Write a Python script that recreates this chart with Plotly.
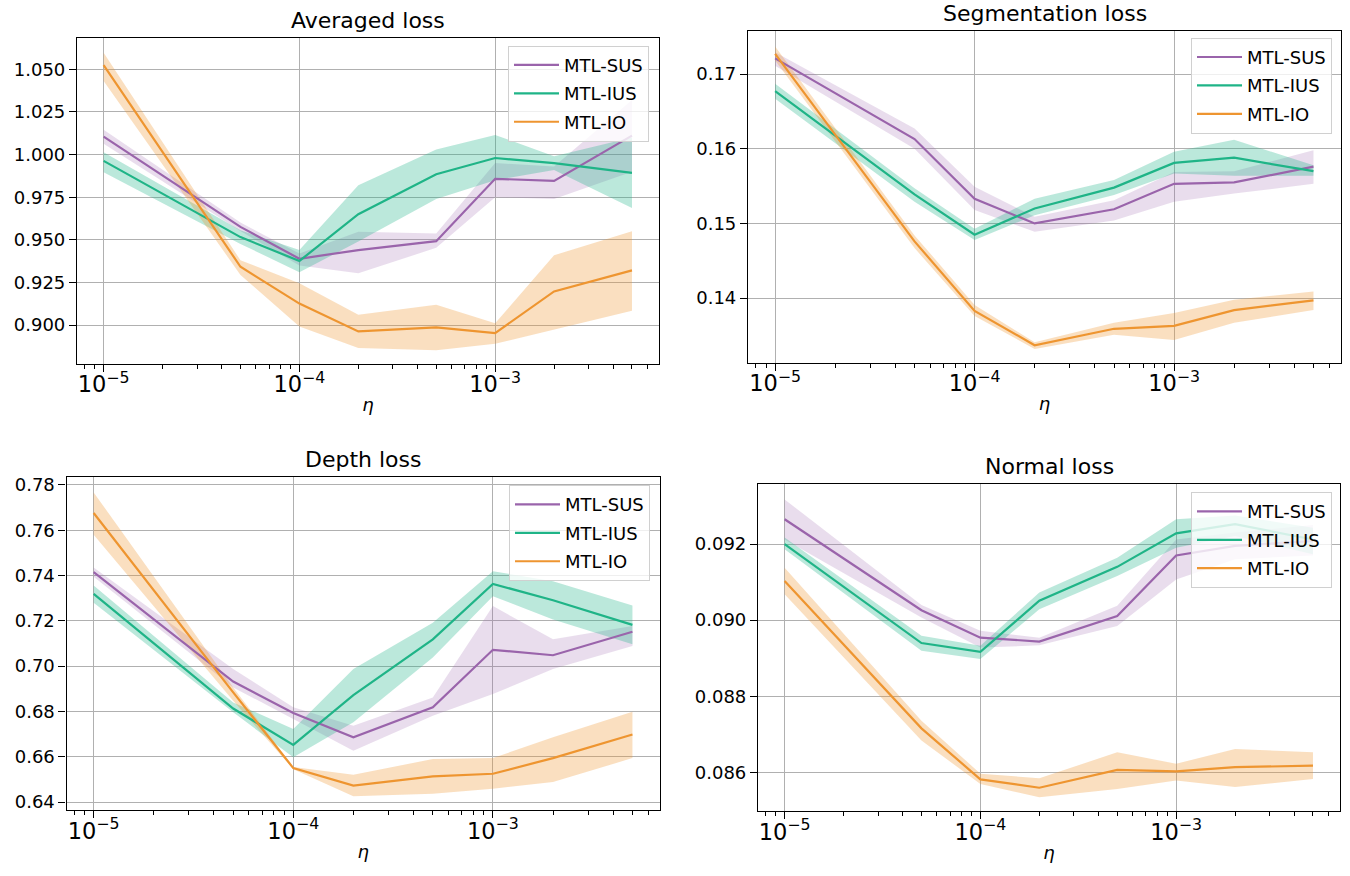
import plotly.graph_objects as go

eta = [1e-5, 5e-5, 1e-4, 2e-4, 5e-4, 1e-3, 2e-3, 5e-3]
methods = ["MTL-SUS", "MTL-IUS", "MTL-IO"]

# Averaged loss
avg_mean = {
    "MTL-SUS": [1.0105, 0.9576, 0.9389, 0.9440, 0.9492, 0.9858, 0.9846, 1.0111],
    "MTL-IUS": [0.9963, 0.9516, 0.9376, 0.9650, 0.9885, 0.9980, 0.9950, 0.9893],
    "MTL-IO":  [1.0525, 0.9342, 0.9126, 0.8963, 0.8986, 0.8953, 0.9197, 0.9321],
}
avg_upper = {
    "MTL-SUS": [1.0146, 0.9601, 0.9420, 0.9547, 0.9537, 0.9950, 0.9930, 1.0320],
    "MTL-IUS": [1.0014, 0.9556, 0.9440, 0.9820, 1.0030, 1.0115, 0.9990, 1.0100],
    "MTL-IO":  [1.0597, 0.9380, 0.9245, 0.9060, 0.9119, 0.9010, 0.9410, 0.9550],
}
avg_lower = {
    "MTL-SUS": [1.0063, 0.9551, 0.9350, 0.9304, 0.9453, 0.9750, 0.9740, 0.9900],
    "MTL-IUS": [0.9897, 0.9476, 0.9310, 0.9490, 0.9740, 0.9850, 0.9910, 0.9687],
    "MTL-IO":  [1.0432, 0.9294, 0.8992, 0.8866, 0.8852, 0.8890, 0.8973, 0.9084],
}

# Segmentation loss
seg_mean = {
    "MTL-SUS": [0.1721, 0.1613, 0.1533, 0.1500, 0.1519, 0.1553, 0.1555, 0.1576],
    "MTL-IUS": [0.1677, 0.1539, 0.1485, 0.1520, 0.1548, 0.1581, 0.1588, 0.1570],
    "MTL-IO":  [0.1727, 0.1476, 0.1383, 0.1337, 0.1359, 0.1363, 0.1384, 0.1397],
}
seg_upper = {
    "MTL-SUS": [0.1729, 0.1627, 0.1549, 0.1509, 0.1531, 0.1569, 0.1570, 0.1598],
    "MTL-IUS": [0.1687, 0.1547, 0.1493, 0.1533, 0.1558, 0.1596, 0.1612, 0.1578],
    "MTL-IO":  [0.1737, 0.1484, 0.1391, 0.1341, 0.1367, 0.1380, 0.1398, 0.1409],
}
seg_lower = {
    "MTL-SUS": [0.1711, 0.1600, 0.1518, 0.1489, 0.1504, 0.1529, 0.1540, 0.1553],
    "MTL-IUS": [0.1667, 0.1529, 0.1478, 0.1511, 0.1538, 0.1567, 0.1564, 0.1564],
    "MTL-IO":  [0.1718, 0.1467, 0.1376, 0.1332, 0.1351, 0.1344, 0.1367, 0.1384],
}

# Depth loss
dep_mean = {
    "MTL-SUS": [0.7415, 0.6932, 0.6793, 0.6686, 0.6818, 0.7072, 0.7048, 0.7152],
    "MTL-IUS": [0.7319, 0.6813, 0.6652, 0.6872, 0.7118, 0.7363, 0.7291, 0.7182],
    "MTL-IO":  [0.7676, 0.6884, 0.6550, 0.6473, 0.6513, 0.6525, 0.6594, 0.6698],
}
dep_upper = {
    "MTL-SUS": [0.7435, 0.6987, 0.6818, 0.6737, 0.6862, 0.7265, 0.7119, 0.7177],
    "MTL-IUS": [0.7356, 0.6840, 0.6723, 0.6987, 0.7192, 0.7419, 0.7375, 0.7268],
    "MTL-IO":  [0.7767, 0.6906, 0.6555, 0.6520, 0.6590, 0.6594, 0.6686, 0.6799],
}
dep_lower = {
    "MTL-SUS": [0.7395, 0.6906, 0.6767, 0.6627, 0.6781, 0.6877, 0.6987, 0.7089],
    "MTL-IUS": [0.7280, 0.6796, 0.6598, 0.6752, 0.7038, 0.7309, 0.7206, 0.7097],
    "MTL-IO":  [0.7580, 0.6847, 0.6545, 0.6426, 0.6437, 0.6459, 0.6488, 0.6594],
}

# Normal loss
nor_mean = {
    "MTL-SUS": [0.09265, 0.09026, 0.08954, 0.08944, 0.09011, 0.09170, 0.09195, 0.09208],
    "MTL-IUS": [0.09200, 0.08940, 0.08917, 0.09051, 0.09140, 0.09228, 0.09252, 0.09212],
    "MTL-IO":  [0.09103, 0.08716, 0.08582, 0.08560, 0.08607, 0.08603, 0.08614, 0.08618],
}
nor_upper = {
    "MTL-SUS": [0.09317, 0.09040, 0.08972, 0.08954, 0.09038, 0.09212, 0.09230, 0.09250],
    "MTL-IUS": [0.09217, 0.08959, 0.08933, 0.09073, 0.09164, 0.09265, 0.09275, 0.09243],
    "MTL-IO":  [0.09138, 0.08736, 0.08597, 0.08585, 0.08653, 0.08623, 0.08662, 0.08653],
}
nor_lower = {
    "MTL-SUS": [0.09212, 0.09007, 0.08928, 0.08934, 0.08985, 0.09107, 0.09160, 0.09170],
    "MTL-IUS": [0.09186, 0.08920, 0.08898, 0.09029, 0.09116, 0.09190, 0.09221, 0.09173],
    "MTL-IO":  [0.09068, 0.08684, 0.08570, 0.08535, 0.08557, 0.08579, 0.08562, 0.08583],
}

titles = ["Averaged loss", "Segmentation loss", "Depth loss", "Normal loss"]

colors = {"MTL-SUS": "#9a64ab", "MTL-IUS": "#1fb487", "MTL-IO": "#ee9530"}
fills = {"MTL-SUS": "rgba(154,100,171,0.22)", "MTL-IUS": "rgba(31,180,135,0.30)",
         "MTL-IO": "rgba(238,149,48,0.30)"}

FW, FH = 1350, 876


def fx(px):
    return px / FW


def fy(py):
    return 1 - py / FH


panels = [
    dict(mean=avg_mean, up=avg_upper, lo=avg_lower, box=(77, 659, 35, 363),
         yr=[0.8772, 1.0685], dtick=0.025, fmt=".3f", leg=(649, 43)),
    dict(mean=seg_mean, up=seg_upper, lo=seg_lower, box=(748, 1341, 28, 362),
         yr=[0.13133, 0.17578], dtick=0.01, fmt=".2f", leg=(1332, 35)),
    dict(mean=dep_mean, up=dep_upper, lo=dep_lower, box=(66.5, 660, 477, 812),
         yr=[0.63633, 0.78337], dtick=0.02, fmt=".2f", leg=(650, 485)),
    dict(mean=nor_mean, up=nor_upper, lo=nor_lower, box=(758, 1340, 484, 813),
         yr=[0.08498, 0.09357], dtick=0.002, fmt=".3f", leg=(1332, 492)),
]

fig = go.Figure()
font_family = "DejaVu Sans"
layout = dict(
    width=FW, height=FH, paper_bgcolor="white", plot_bgcolor="white",
    margin=dict(l=0, r=0, t=0, b=0), font=dict(family=font_family, size=18, color="black"),
    annotations=[],
)

for i, p in enumerate(panels):
    n = "" if i == 0 else str(i + 1)
    xa, ya = "x" + n, "y" + n
    legname = "legend" + n
    x0, x1, y0, y1 = p["box"]
    xd = [fx(x0), fx(x1)]
    yd = [fy(y1), fy(y0)]
    for m in methods:
        fig.add_trace(go.Scatter(
            x=eta + eta[::-1], y=p["up"][m] + p["lo"][m][::-1],
            fill="toself", fillcolor=fills[m], line=dict(width=0), mode="lines",
            hoverinfo="skip", showlegend=False, xaxis=xa, yaxis=ya))
    for m in methods:
        fig.add_trace(go.Scatter(
            x=eta, y=p["mean"][m], mode="lines", name=m,
            line=dict(color=colors[m], width=2.2), xaxis=xa, yaxis=ya,
            legend=legname, legendgroup=m + n, showlegend=True))
    layout["xaxis" + n] = dict(
        domain=xd, anchor=ya, type="log", range=[-5.136, -2.163],
        dtick=1, exponentformat="power", showexponent="all",
        showgrid=True, gridcolor="#b0b0b0", gridwidth=1,
        showline=True, linecolor="black", linewidth=1.2, mirror=True,
        ticks="outside", ticklen=7, tickcolor="black", zeroline=False,
        minor=dict(ticks="outside", ticklen=4, tickcolor="black", showgrid=False, dtick="D1"),
        tickfont=dict(size=18), ticklabelstandoff=-6,
        title=dict(text="<i>η</i>", font=dict(size=18), standoff=2),
    )
    layout["yaxis" + n] = dict(
        domain=yd, anchor=xa, range=p["yr"], dtick=p["dtick"], tickformat=p["fmt"],
        showgrid=True, gridcolor="#b0b0b0", gridwidth=1,
        showline=True, linecolor="black", linewidth=1.2, mirror=True,
        ticks="outside", ticklen=7, tickcolor="black", zeroline=False,
        tickfont=dict(size=18),
    )
    layout[legname] = dict(
        x=fx(p["leg"][0]), y=fy(p["leg"][1]), xanchor="right", yanchor="top",
        bgcolor="rgba(255,255,255,0.8)", bordercolor="#d0d0d0", borderwidth=1,
        font=dict(size=18), traceorder="grouped", tracegroupgap=2, itemwidth=45,
    )
    layout["annotations"].append(dict(
        text=titles[i], xref="paper", yref="paper",
        x=(xd[0] + xd[1]) / 2, y=yd[1], yshift=3,
        xanchor="center", yanchor="bottom", showarrow=False, font=dict(size=22)))

fig.update_layout(**layout)
fig.write_html("out.html", config={"displayModeBar": False},
               post_script="document.body.style.margin='0px';")
